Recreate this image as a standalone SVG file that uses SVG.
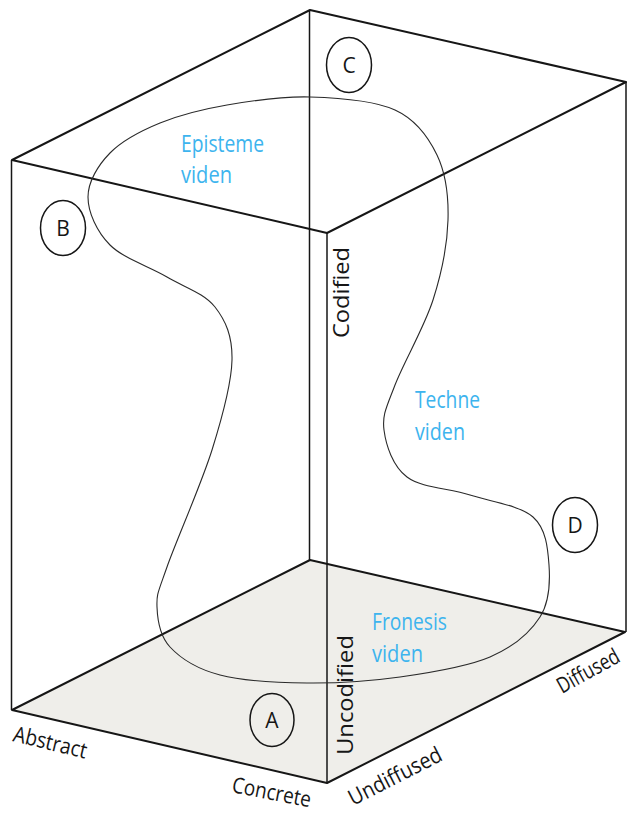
<svg xmlns="http://www.w3.org/2000/svg" width="639" height="815" viewBox="0 0 639 815">
<style>
.edge{fill:none;stroke:#161616;stroke-width:2;stroke-linejoin:round;stroke-linecap:round}
.vert{fill:none;stroke:#161616;stroke-width:1.5}
.blob{fill:none;stroke:#2a2a2a;stroke-width:1.1}
.node ellipse{fill:none;stroke:#161616;stroke-width:1.5}
.letter{font-family:"Open Sans","Noto Sans",sans-serif;font-size:21px;fill:#161616;text-anchor:middle}
.region{font-family:"Open Sans","Noto Sans",sans-serif;font-size:24px;fill:#3db4ee}
.axis{font-family:"Open Sans","Noto Sans",sans-serif;font-size:22px;fill:#161616}
</style>
<rect width="639" height="815" fill="#ffffff"/>
<g id="floor">
<polygon points="12,710 310,560 625,632 327,783" fill="#efeeea"/>
</g>
<g id="connectors">
<line class="vert" x1="309.5" y1="10" x2="309.5" y2="560"/>
<line class="vert" x1="11.5" y1="160" x2="11.5" y2="710"/>
<line class="vert" x1="626" y1="82" x2="626" y2="632"/>
<line class="vert" x1="327" y1="233" x2="327" y2="783"/>
<polygon class="edge" points="12,160 310,10 626,82 327,233"/>
<polygon class="edge" points="12,710 310,560 625,632 327,783"/>
</g>
<g id="knowledge-region">
<path class="blob" d="M310,97 C338,97.8 373.8,100.3 395,110 C416.2,119.7 428.2,136.7 437,155 C445.8,173.3 448.7,195.8 448,220 C447.3,244.2 441.8,272.5 433,300 C424.2,327.5 403.2,363.3 395,385 C386.8,406.7 382,414.7 384,430 C386,445.3 392.7,466.2 407,477 C421.3,487.8 449,488.3 470,495 C491,501.7 519.8,505.3 533,517 C546.2,528.7 547.8,548.3 549,565 C550.2,581.7 549.8,601.7 540,617 C530.2,632.3 513.3,647 490,657 C466.7,667 430.5,672.7 400,677 C369.5,681.3 337,683.3 307,683 C277,682.7 242.8,681 220,675 C197.2,669 180.5,658.3 170,647 C159.5,635.7 157.5,620.3 157,607 C156.5,593.7 157.8,593.2 167,567 C176.2,540.8 201.2,484.5 212,450 C222.8,415.5 231.5,383.8 232,360 C232.5,336.2 225.8,320.8 215,307 C204.2,293.2 184.5,287.3 167,277 C149.5,266.7 123.2,258.3 110,245 C96.8,231.7 88,212.3 88,197 C88,181.7 98,165.3 110,153 C122,140.7 140.5,131 160,123 C179.5,115 202,109.3 227,105 C252,100.7 282,96.2 310,97 Z"/>
</g>
<g id="episteme">
<text class="region" x="181" y="152" textLength="83" lengthAdjust="spacingAndGlyphs">Episteme</text>
<text class="region" x="181" y="183" textLength="51" lengthAdjust="spacingAndGlyphs">viden</text>
</g>
<g id="techne">
<text class="region" x="415" y="408" textLength="65" lengthAdjust="spacingAndGlyphs">Techne</text>
<text class="region" x="415" y="440" textLength="50" lengthAdjust="spacingAndGlyphs">viden</text>
</g>
<g id="fronesis">
<text class="region" x="372" y="630" textLength="75" lengthAdjust="spacingAndGlyphs">Fronesis</text>
<text class="region" x="372" y="662" textLength="51" lengthAdjust="spacingAndGlyphs">viden</text>
</g>
<g id="node-A" class="node"><ellipse cx="272" cy="720" rx="22" ry="26.5"/><text class="letter" x="272" y="727.5">A</text></g>
<g id="node-B" class="node"><ellipse cx="63" cy="228" rx="22.5" ry="27.5"/><text class="letter" x="63" y="235.5">B</text></g>
<g id="node-C" class="node"><ellipse cx="349" cy="65" rx="22.5" ry="27.5"/><text class="letter" x="349" y="72.5">C</text></g>
<g id="node-D" class="node"><ellipse cx="575" cy="525" rx="22.5" ry="27.5"/><text class="letter" x="575" y="532.5">D</text></g>
<g id="axis-labels">
<text class="axis" transform="translate(349,338) rotate(-90)" textLength="91" lengthAdjust="spacingAndGlyphs">Codified</text>
<text class="axis" transform="translate(353,755) rotate(-90)" textLength="120" lengthAdjust="spacingAndGlyphs">Uncodified</text>
<text class="axis" transform="translate(12,741) rotate(13.5)" textLength="75" lengthAdjust="spacingAndGlyphs">Abstract</text>
<text class="axis" transform="translate(231,792) rotate(11)" textLength="80" lengthAdjust="spacingAndGlyphs">Concrete</text>
<text class="axis" transform="translate(353,806) rotate(-27)" textLength="102" lengthAdjust="spacingAndGlyphs">Undiffused</text>
<text class="axis" transform="translate(562,694) rotate(-29)" textLength="68" lengthAdjust="spacingAndGlyphs">Diffused</text>
</g>
</svg>
